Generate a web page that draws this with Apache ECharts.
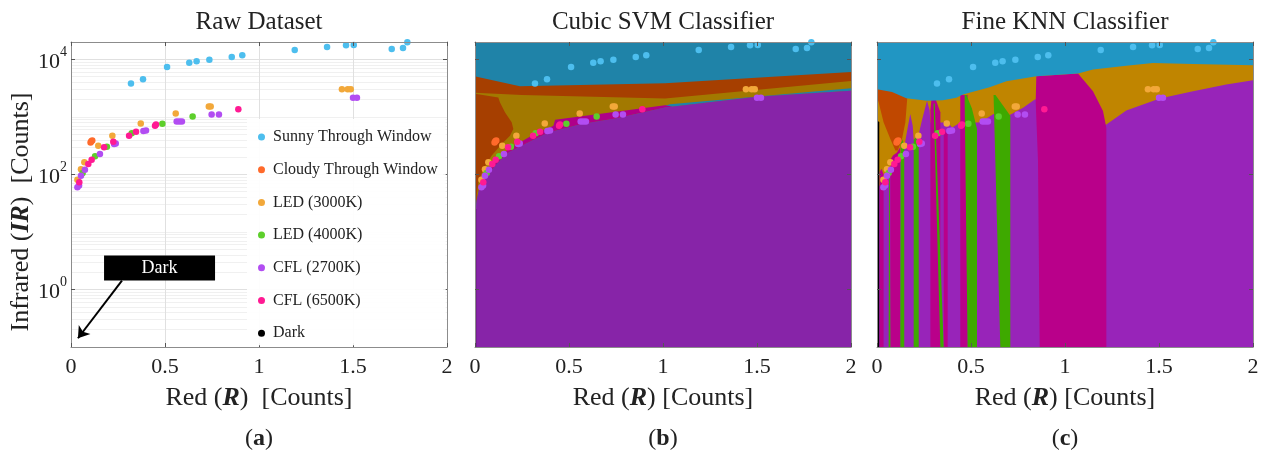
<!DOCTYPE html>
<html style="height: 100%">

<head>
    <meta charset="utf-8">
    <title>Raw Dataset / Cubic SVM / Fine KNN</title>
    <script type="text/javascript" src="https://cdn.jsdelivr.net/npm/echarts@6/dist/echarts.min.js"></script>
</head>

<body style="height: 100%; margin: 0; background: #fff">
    <div id="container" style="width: 1266px; height: 450px"></div>

    <script type="text/javascript">
        // axis ranges
        var xMin = 0, xMax = 2, yMin = 0.1, yMax = 20000;
        var yTicks = [1, 100, 10000];

        // classes
        var classNames = ['Sunny Through Window', 'Cloudy Through Window', 'LED (3000K)', 'LED (4000K)', 'CFL (2700K)', 'CFL (6500K)', 'Dark'];
        var classColors = ['#4DBEEE', '#FF6A2B', '#F2A83A', '#5DCF2B', '#B24DF2', '#FF1A93', '#000000'];

        // measured points [R, IR]
        var sunnyPts = [[0.319, 3790], [0.383, 4510], [0.511, 7370], [0.629, 8750], [0.668, 9230], [0.736, 9870], [0.855, 10970], [0.911, 11730],
            [1.190, 14510], [1.362, 16360], [1.463, 17480], [1.504, 17710], [1.706, 15100], [1.766, 15710], [1.789, 19800]];
        var cloudyPts = [[0.104, 360], [0.108, 375], [0.113, 390]];
        var led3000Pts = [[0.034, 81], [0.053, 123], [0.071, 163], [0.145, 315], [0.220, 470], [0.371, 770], [0.557, 1146], [0.733, 1515],
            [0.743, 1515], [1.441, 3025], [1.472, 3025], [1.488, 3025]];
        var led4000Pts = [[0.062, 106], [0.128, 207], [0.191, 303], [0.323, 517], [0.486, 759], [0.647, 1017]];
        var cfl2700Pts = [[0.034, 60], [0.043, 64], [0.053, 95], [0.074, 121], [0.154, 226], [0.229, 337], [0.238, 345], [0.385, 566], [0.399, 580],
            [0.562, 834], [0.576, 834], [0.590, 834], [0.748, 1102], [0.787, 1102], [1.500, 2140], [1.521, 2140]];
        var cfl6500Pts = [[0.044, 73], [0.092, 152], [0.110, 180], [0.176, 296], [0.225, 370], [0.309, 470], [0.346, 551], [0.447, 700],
            [0.452, 740], [0.890, 1362]];
        var darkPts = [];
        var classPts = [sunnyPts, cloudyPts, led3000Pts, led4000Pts, cfl2700Pts, cfl6500Pts, darkPts];

        // "Dark" annotation in panel (a)
        var darkLabelAt = [0.471, 2.36];
        var darkArrow = [[0.271, 1.43], [0.037, 0.142]];

        // cubic SVM decision boundaries (b)
        var svmPurpleTop = [[0, 17.8], [0.009, 35.5], [0.02, 52.5], [0.036, 67.6], [0.053, 83.2], [0.106, 141], [0.177, 240], [0.266, 339],
            [0.39, 537], [0.567, 748], [0.745, 940], [1.011, 1455], [1.5, 2239], [2, 2831]];
        var svmCfl65Top = [[0.018, 49], [0.053, 95.5], [0.106, 163], [0.177, 277], [0.301, 470], [0.417, 700], [0.426, 889], [1.011, 1596], [1.05, 1520]];
        var svmCloudyTop = [[0, 5140], [0.009, 5000], [0.239, 3390], [1.011, 3840], [2, 6040]];
        var svmLed3Top = [[0, 2630], [0.25, 2400], [1.011, 2085], [2, 4220]];
        var svmLed3Edge = [[0, 2512], [0.124, 2168], [0.133, 1778], [0.16, 1194], [0.195, 802], [0.204, 614], [0.186, 470], [0.142, 337],
            [0.089, 212], [0.044, 124], [0.018, 73.3], [0.009, 43]];
        var svmSunnyStrip = [[0.95, 1349], [1.037, 1663], [2, 3141]];
        var svmDarkTop = [[0, 25], [0.006, 25]];

        // fine KNN decision boundaries (c)
        var knnSunnyBottom = [[0, 3020], [0.08, 2700], [0.156, 2100], [0.266, 1900], [0.35, 1950], [0.422, 2150], [0.457, 2443], [0.599, 3273],
            [0.688, 4159], [0.848, 5082], [1.069, 5649], [1.149, 6622], [1.326, 7762], [1.468, 8650], [1.681, 8299], [2, 7870]];
        var knnPurpleTop = [[0, 56], [0.035, 80], [0.062, 100], [0.09, 100], [0.145, 300], [0.165, 700], [0.177, 1116], [0.19, 700], [0.195, 400],
            [0.222, 500], [0.24, 900], [0.266, 1900], [0.28, 1300], [0.284, 800], [0.376, 800], [0.40, 650], [0.443, 800], [0.532, 800],
            [0.55, 802], [0.62, 1116], [0.656, 1100], [0.706, 1072], [0.777, 1435], [0.839, 2005], [0.865, 2005], [0.972, 647], [1.22, 740],
            [1.326, 1291], [1.504, 2084], [1.681, 2793], [1.858, 3639], [2, 4325]];
        var knnCloudyWedge = [[0, 3500], [0.165, 3500], [0.16, 1950], [0.151, 802], [0.133, 412], [0.110, 259], [0.098, 259], [0.071, 412],
            [0.035, 802], [0.009, 1778], [0, 2200]];
        var knnDarkStrip = [[0, 0.1], [0, 900], [0.012, 800], [0.012, 0.1]];
        var knnCfl65Strips = [
            [[0.014, 0.1], [0.014, 110], [0.024, 125], [0.035, 100], [0.035, 0.1]],
            [[0.071, 0.1], [0.071, 180], [0.085, 212], [0.106, 240], [0.124, 300], [0.124, 0.1]],
            [[0.284, 0.1], [0.284, 1300], [0.29, 2100], [0.31, 2100], [0.337, 1200], [0.337, 0.1]],
            [[0.355, 0.1], [0.355, 520], [0.366, 560], [0.376, 500], [0.376, 0.1]],
            [[0.443, 0.1], [0.443, 2400], [0.482, 2400], [0.482, 0.1]],
            [[0.8652, 0.1], [0.8564, 171], [0.8440, 1875], [0.8475, 5082], [1.0691, 5649], [1.1489, 2793], [1.2021, 1259], [1.2199, 647], [1.2199, 0.1]]
        ];
        var knnLed4Strips = [
            [[0.062, 0.1], [0.064, 109], [0.068, 115], [0.071, 0.1]],
            [[0.124, 0.1], [0.126, 337], [0.133, 412], [0.145, 330], [0.145, 0.1]],
            [[0.195, 0.1], [0.195, 400], [0.205, 430], [0.222, 380], [0.222, 0.1]],
            [[0.337, 0.1], [0.301, 1700], [0.307, 1700], [0.355, 0.1]],
            [[0.482, 0.1], [0.466, 2400], [0.476, 2400], [0.505, 1400], [0.532, 614], [0.532, 0.1]],
            [[0.656, 0.1], [0.620, 2400], [0.630, 2400], [0.675, 1500], [0.709, 1045], [0.709, 0.1]]
        ];

        var font = "'Liberation Serif', 'Times New Roman', serif";
        var ink = '#222';
        var gridLefts = [71, 475, 877];

        // polygon helpers
        function rev(a) { return a.slice().reverse(); }
        function clipX(a, x0, x1) { return a.filter(function (p) { return p[0] >= x0 && p[0] <= x1; }); }
        function band(upper, lower) { return upper.concat(rev(lower)); }
        var fullRect = [[xMin, yMin], [xMax, yMin], [xMax, yMax], [xMin, yMax]];

        var svmRegions = [
            { fill: '#1F83A8', pts: fullRect },
            { fill: '#A63F00', pts: band(svmCloudyTop, svmPurpleTop) },
            { fill: '#A27900', pts: svmLed3Top.concat(rev(clipX(svmPurpleTop, 0.009, 2))).concat(rev(svmLed3Edge)) },
            { fill: '#1F83A8', pts: band(svmSunnyStrip, clipX(svmPurpleTop, 0.95, 2)) },
            { fill: '#AF0089', pts: band(svmCfl65Top, clipX(svmPurpleTop, 0.018, 1.05)) },
            { fill: '#8724A8', pts: svmPurpleTop.concat([[xMax, yMin], [xMin, yMin]]) },
            { fill: '#000000', pts: band(svmDarkTop, [[0, yMin], [0.006, yMin]]) }
        ];

        var knnRegions = [
            { fill: '#C08500', pts: fullRect },
            { fill: '#9824B9', pts: knnPurpleTop.concat([[xMax, yMin], [xMin, yMin]]) },
            { fill: '#000000', pts: knnDarkStrip }
        ];
        knnCfl65Strips.forEach(function (s) { knnRegions.push({ fill: '#B9008A', pts: s }); });
        knnLed4Strips.forEach(function (s) { knnRegions.push({ fill: '#3EA900', pts: s }); });
        knnRegions.push({ fill: '#C04800', pts: knnCloudyWedge });
        knnRegions.push({ fill: '#2196C3', pts: [[xMin, yMax], [xMax, yMax]].concat(rev(knnSunnyBottom)) });

        function regionSeries(gi, regions) {
            return {
                type: 'custom',
                xAxisIndex: gi * 2,
                yAxisIndex: gi * 2,
                clip: true,
                silent: true,
                z: 1,
                data: regions.map(function () { return [1, 1]; }),
                renderItem: function (params, api) {
                    var r = regions[params.dataIndex];
                    return {
                        type: 'polygon',
                        shape: { points: r.pts.map(function (p) { return api.coord(p); }) },
                        style: { fill: r.fill }
                    };
                }
            };
        }

        function expLabel(v) {
            var e = Math.round(Math.log(v) / Math.LN10);
            if (Math.abs(Math.log(v) / Math.LN10 - e) > 1e-6 || e % 2 !== 0) return '';
            return '{b|10}{s|' + e + '}';
        }

        var xAxes = [], yAxes = [];
        var xNames = ['Red ({bi|R})  [Counts]', 'Red ({bi|R}) [Counts]', 'Red ({bi|R}) [Counts]'];
        for (var i = 0; i < 3; i++) {
            var line = { onZero: false, lineStyle: { color: '#8c8c8c', width: 1 } };
            var tick = { inside: true, length: 4, lineStyle: { color: '#555' } };
            xAxes.push({
                gridIndex: i, type: 'value', min: xMin, max: xMax, interval: 0.5, position: 'bottom', z: 5,
                axisLine: line, axisTick: tick, splitLine: { show: false },
                axisLabel: { fontSize: 22, fontFamily: font, color: ink, margin: 9 },
                name: xNames[i], nameLocation: 'middle', nameGap: 38,
                nameTextStyle: {
                    fontSize: 26, fontFamily: font, color: ink,
                    rich: { bi: { fontSize: 26, fontFamily: font, color: ink, fontWeight: 'bold', fontStyle: 'italic' } }
                }
            });
            xAxes.push({
                gridIndex: i, type: 'value', min: xMin, max: xMax, interval: 0.5, position: 'top', z: 5,
                axisLine: line, axisTick: tick, splitLine: { show: false }, axisLabel: { show: false }
            });
            var left = {
                gridIndex: i, type: 'log', logBase: 10, min: yMin, max: yMax, position: 'left', z: 5,
                axisLine: { show: true, onZero: false, lineStyle: { color: '#8c8c8c', width: 1 } },
                axisTick: { show: true, inside: true, length: 4, customValues: yTicks, lineStyle: { color: '#555' } },
                splitLine: { show: false },
                axisLabel: {
                    show: i === 0, customValues: yTicks, margin: 4, formatter: expLabel,
                    rich: {
                        b: { fontSize: 22, fontFamily: font, color: ink, lineHeight: 28, verticalAlign: 'bottom' },
                        s: { fontSize: 14, fontFamily: font, color: ink, lineHeight: 28, verticalAlign: 'top' }
                    }
                }
            };
            if (i === 0) {
                left.name = 'Infrared ({bi|IR})  [Counts]';
                left.nameLocation = 'middle';
                left.nameGap = 34;
                left.nameTextStyle = {
                    fontSize: 26, fontFamily: font, color: ink, padding: [0, 35, 0, 0],
                    rich: { bi: { fontSize: 26, fontFamily: font, color: ink, fontWeight: 'bold', fontStyle: 'italic' } }
                };
            }
            yAxes.push(left);
            yAxes.push({
                gridIndex: i, type: 'log', logBase: 10, min: yMin, max: yMax, position: 'right', z: 5,
                axisLine: { show: true, onZero: false, lineStyle: { color: '#8c8c8c', width: 1 } },
                axisTick: { show: true, inside: true, length: 4, customValues: yTicks, lineStyle: { color: '#555' } },
                splitLine: { show: false }, axisLabel: { show: false }
            });
        }

        // light grid of panel (a): decades and 2..9 minors, plus x lines
        var gridMarks = [];
        for (var e = -1; e <= 4; e++) {
            for (var m = 1; m <= 9; m++) {
                var v = m * Math.pow(10, e);
                if (v <= yMin || v >= yMax) continue;
                var major = (m === 1 && e % 2 === 0);
                gridMarks.push({ yAxis: v, lineStyle: { color: major ? '#e0e0e0' : '#f0f0f0', width: 1, type: 'solid' } });
            }
        }
        [0.5, 1, 1.5].forEach(function (x) {
            gridMarks.push({ xAxis: x, lineStyle: { color: '#e0e0e0', width: 1, type: 'solid' } });
        });

        var series = [];
        series.push({
            type: 'line', xAxisIndex: 0, yAxisIndex: 0, data: [], silent: true, z: 1,
            markLine: { silent: true, z: 1, symbol: 'none', label: { show: false }, animation: false, data: gridMarks }
        });
        series.push(regionSeries(1, svmRegions));
        series.push(regionSeries(2, knnRegions));

        for (var g = 0; g < 3; g++) {
            for (var c = 0; c < classNames.length; c++) {
                if (g > 0 && classPts[c].length === 0) continue;
                var s = {
                    type: 'scatter', name: classNames[c], xAxisIndex: g * 2, yAxisIndex: g * 2,
                    data: classPts[c], symbolSize: 6.5, z: 4,
                    itemStyle: { color: classColors[c], opacity: 1 }
                };
                if (g === 0 && classNames[c] === 'Dark') {
                    s.markLine = {
                        silent: true, z: 3, symbol: ['none', 'arrow'], symbolSize: 11, animation: false,
                        label: { show: false },
                        lineStyle: { color: '#000', width: 2, type: 'solid' },
                        data: [[{ coord: darkArrow[0] }, { coord: darkArrow[1] }]]
                    };
                    s.markPoint = {
                        silent: true, z: 3, animation: false, symbol: 'rect', symbolSize: [111, 25],
                        itemStyle: { color: '#000' },
                        label: { show: true, position: 'inside', formatter: 'Dark', color: '#fff', fontSize: 18, fontFamily: font },
                        data: [{ coord: darkLabelAt }]
                    };
                }
                series.push(s);
            }
        }

        var titles = [];
        var topTexts = ['Raw Dataset', 'Cubic SVM Classifier', 'Fine KNN Classifier'];
        var subTexts = ['({b|a})', '({b|b})', '({b|c})'];
        for (var t = 0; t < 3; t++) {
            var cx = gridLefts[t] + 188;
            titles.push({
                text: topTexts[t], left: cx, top: 10, textAlign: 'center', padding: 0,
                textStyle: { fontSize: 25, fontWeight: 'normal', fontFamily: font, color: ink }
            });
            titles.push({
                text: subTexts[t], left: cx, top: 427, textAlign: 'center', padding: 0,
                textStyle: {
                    fontSize: 24, fontWeight: 'normal', fontFamily: font, color: ink,
                    rich: { b: { fontSize: 24, fontWeight: 'bold', fontFamily: font, color: ink } }
                }
            });
        }

        var dom = document.getElementById('container');
        var myChart = echarts.init(dom, null, { renderer: 'canvas' });
        var option = {
            animation: false,
            backgroundColor: '#fff',
            title: titles,
            grid: [
                { left: gridLefts[0], top: 42, width: 376, height: 305 },
                { left: gridLefts[1], top: 42, width: 376, height: 305 },
                { left: gridLefts[2], top: 42, width: 376, height: 305 }
            ],
            legend: {
                data: classNames,
                orient: 'vertical',
                left: 247, top: 119, z: 6,
                padding: [10, 8, 4, 11],
                backgroundColor: 'rgba(255,255,255,0.92)',
                icon: 'circle', itemWidth: 7, itemHeight: 7, itemGap: 16.7,
                textStyle: { fontSize: 16, fontFamily: font, color: ink, lineHeight: 16, padding: [0, 0, 0, 3] }
            },
            xAxis: xAxes,
            yAxis: yAxes,
            series: series
        };
        myChart.setOption(option, true);
    </script>
</body>

</html>
